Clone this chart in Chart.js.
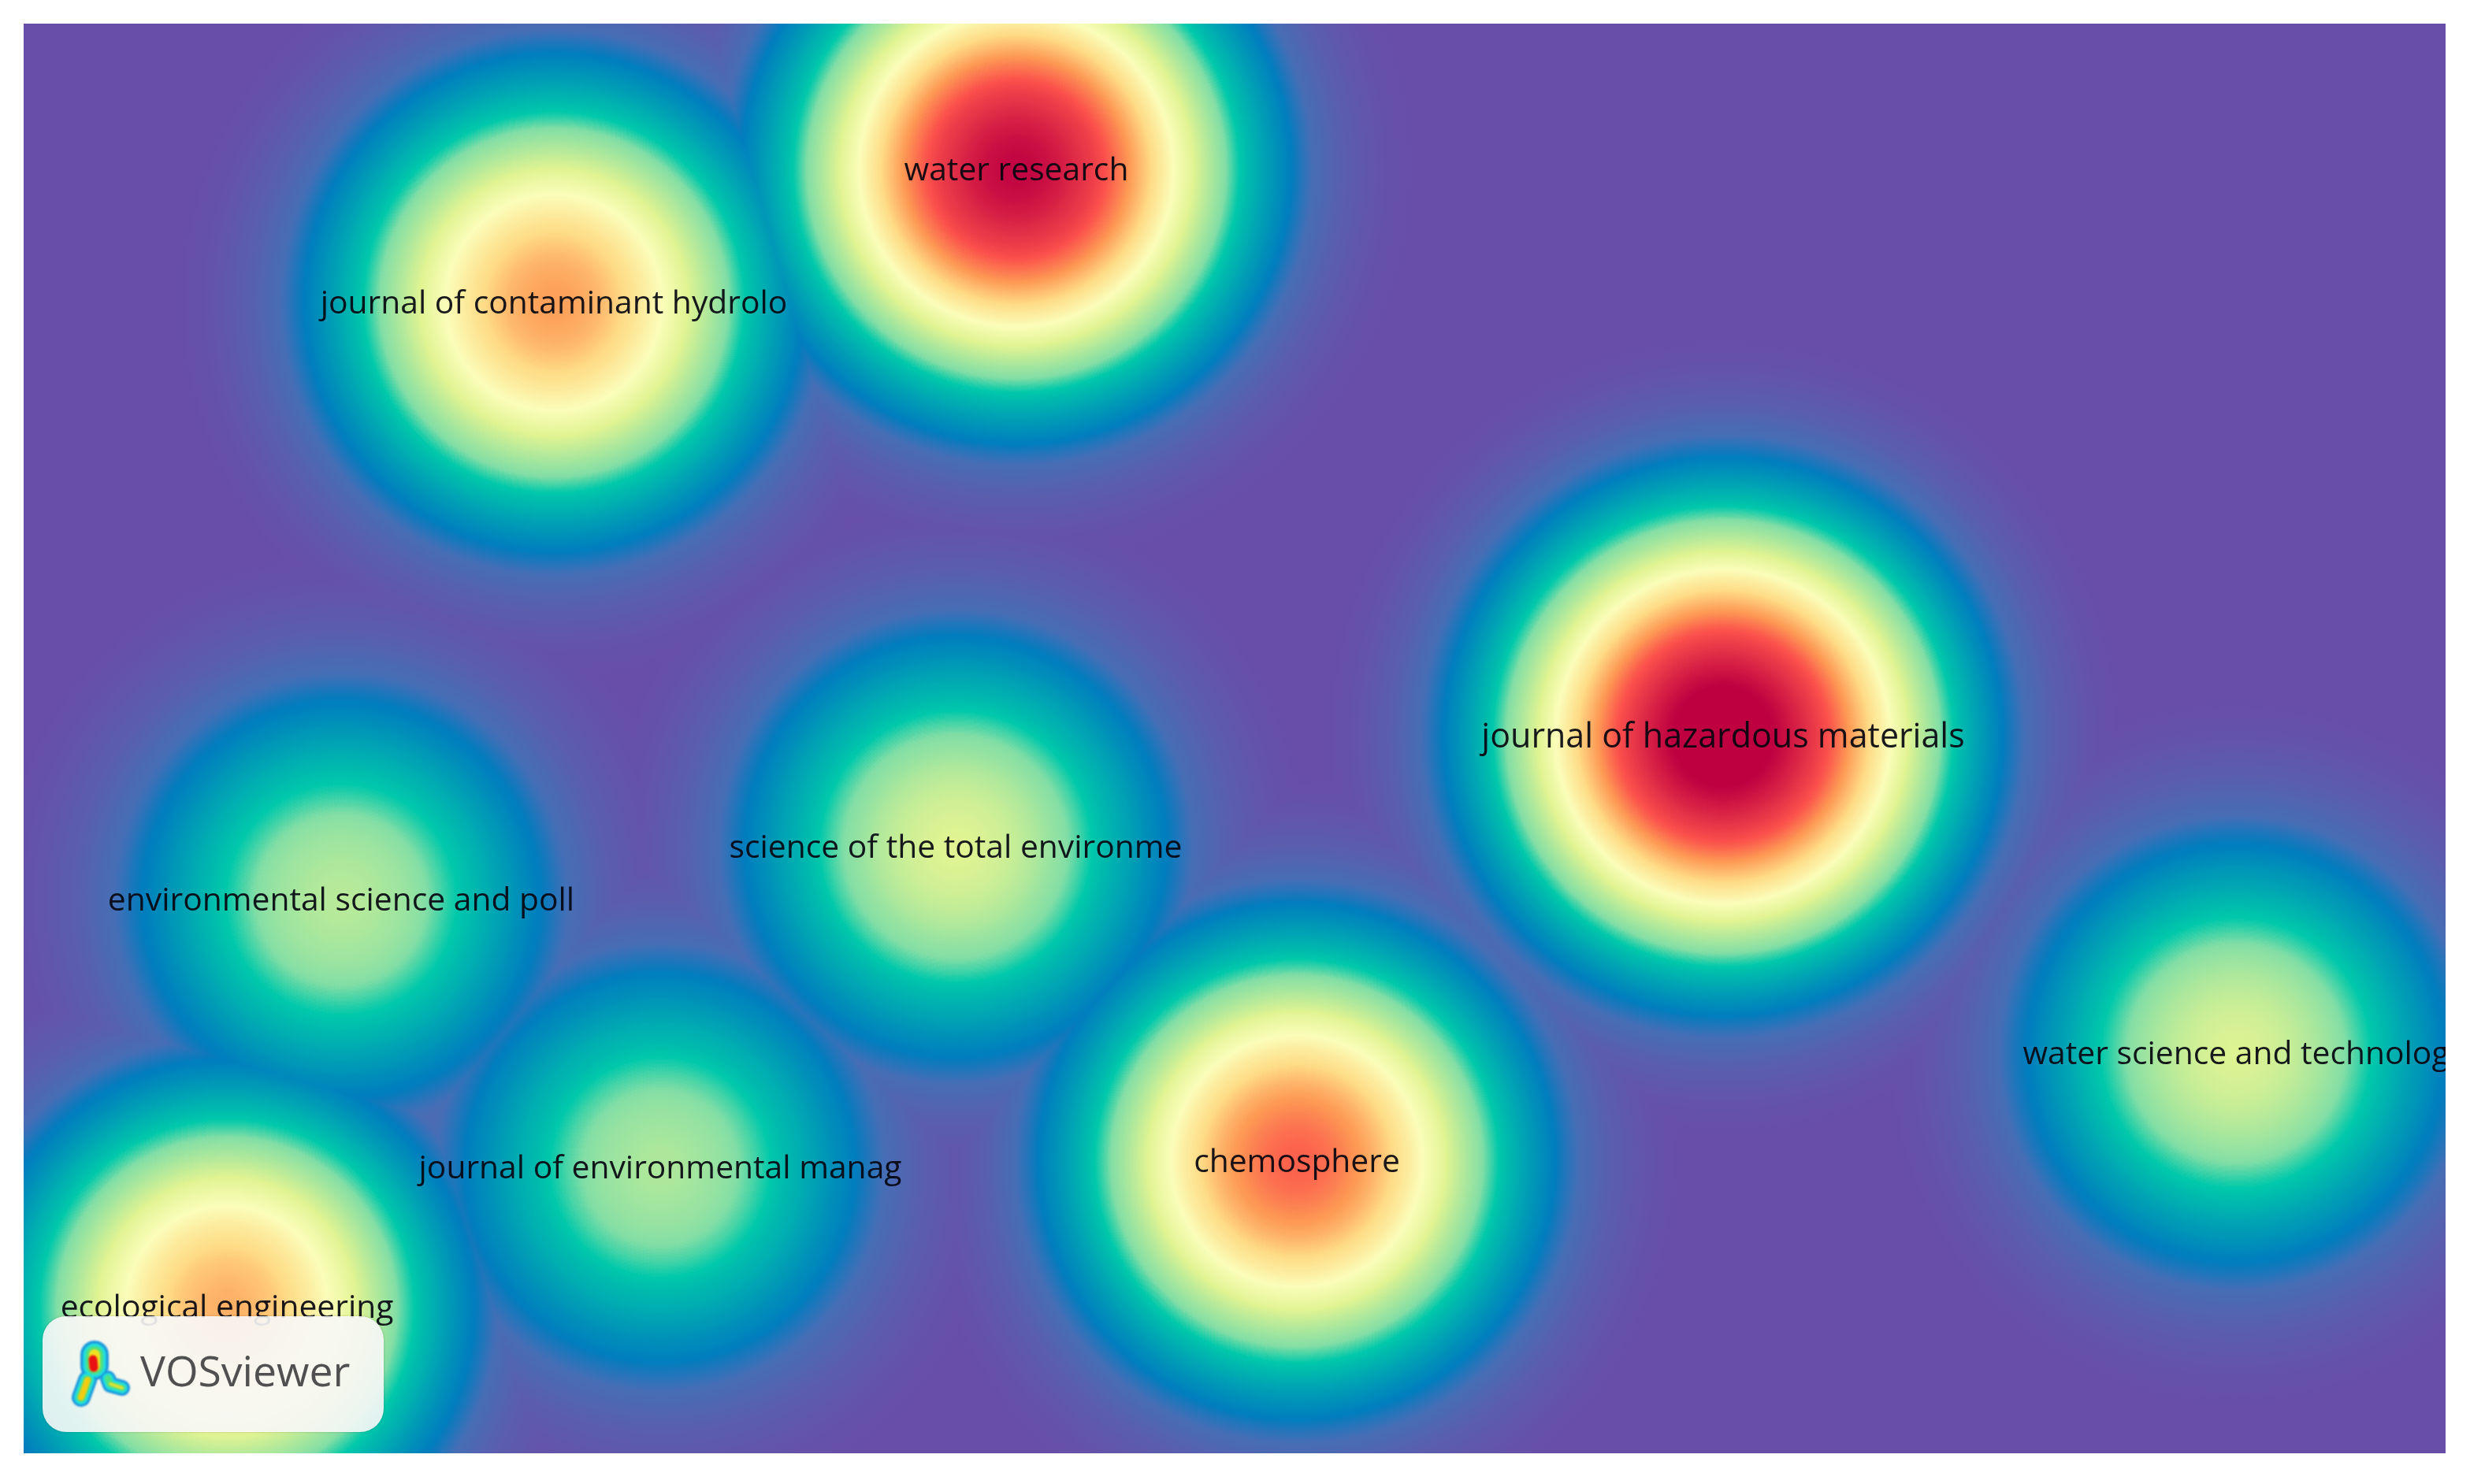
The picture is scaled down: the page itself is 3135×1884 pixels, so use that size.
<!DOCTYPE html>
<html>
<head>
<meta charset="utf-8">
<title>VOSviewer density map</title>
<script src="https://cdn.jsdelivr.net/npm/chart.js@4"></script>
<style>
    html, body { margin: 0; padding: 0; background: #fff; }
    canvas { display: block; }
</style>
</head>
<body>
<canvas id="densityChart" width="3135" height="1884"></canvas>
<script>
// Journals
const JOURNALS = [
    'water research', 'journal of contaminant hydrolo', 'journal of hazardous materials',
    'science of the total environme', 'environmental science and poll', 'water science and technolog',
    'chemosphere', 'journal of environmental manag', 'ecological engineering'
];
const NODE_X = [1260, 673, 2157, 1183, 403, 2808, 1616, 808, 258];
const NODE_Y = [185, 354, 905, 1045, 1112, 1307, 1444, 1452, 1629];
const NODE_DENSITY = [0.94, 0.72, 1.0, 0.50, 0.453, 0.497, 0.785, 0.44, 0.70];

// Label font size per journal
const LABEL_SIZES = [40.8, 40.8, 43, 40.8, 40.8, 40.8, 40.8, 40.8, 40.8];

// Density colour scale
const SCALE_LEVELS = [0, 0.04, 0.10, 0.16, 0.205, 0.345, 0.39, 0.5, 0.57, 0.65, 0.726, 0.80, 0.88, 0.95, 1];
const SCALE_COLORS = [
    [104, 78, 167], [104, 78, 167], [92, 92, 172], [70, 110, 182], [0, 125, 190], [0, 200, 170],
    [130, 222, 165], [224, 243, 146], [250, 253, 185], [254, 220, 135], [253, 155, 85], [251, 80, 75],
    [220, 40, 70], [190, 0, 65], [190, 0, 65]
];

const KERNEL_SIGMA = 200;
const KERNEL_RADIUS = 640;

function buildLookup() {
    const lookup = [];
    for (let i = 0; i < 256; i++) {
        const t = i / 255;
        let k = 0;
        while (k < SCALE_LEVELS.length - 2 && t > SCALE_LEVELS[k + 1]) k++;
        const f = (t - SCALE_LEVELS[k]) / (SCALE_LEVELS[k + 1] - SCALE_LEVELS[k]);
        lookup.push(SCALE_COLORS[k].map((c, n) => c + (SCALE_COLORS[k + 1][n] - c) * f));
    }
    return lookup;
}
const LOOKUP = buildLookup();

// Each bubble is a grey kernel, merged and coloured afterwards
function kernelFill(context) {
    const chart = context.chart;
    const i = context.dataIndex;
    if (i === undefined || !chart.chartArea) return 'black';
    const px = chart.scales.x.getPixelForValue(NODE_X[i]);
    const py = chart.scales.y.getPixelForValue(NODE_Y[i]);
    if (!Number.isFinite(px) || !Number.isFinite(py)) return 'black';
    const gradient = chart.ctx.createRadialGradient(px, py, 0, px, py, KERNEL_RADIUS);
    for (let s = 0; s <= 32; s++) {
        const d = s / 32 * KERNEL_RADIUS;
        const g = Math.round(255 * NODE_DENSITY[i] * Math.exp(-d * d / (2 * KERNEL_SIGMA * KERNEL_SIGMA)));
        gradient.addColorStop(s / 32, `rgb(${g},${g},${g})`);
    }
    return gradient;
}

function blob(ctx, points, width, color) {
    ctx.strokeStyle = color;
    ctx.lineWidth = width;
    ctx.beginPath();
    points.forEach((p, n) => n ? ctx.lineTo(p[0], p[1]) : ctx.moveTo(p[0], p[1]));
    ctx.stroke();
}

// VOSviewer badge in the lower left corner
function drawBadge(ctx) {
    ctx.save();
    ctx.shadowColor = 'rgba(0,0,0,0.25)';
    ctx.shadowBlur = 3;
    ctx.fillStyle = 'rgba(255,255,255,0.88)';
    ctx.beginPath();
    ctx.roundRect(54, 1671, 433, 147, 30);
    ctx.fill();
    ctx.restore();

    ctx.save();
    ctx.lineCap = 'round';
    ctx.lineJoin = 'round';
    ctx.filter = 'blur(1px)';
    const top = [[120, 1720], [120, 1734]];
    const left = [[111, 1752], [103, 1774]];
    const right = [[137, 1750], [140, 1758], [155, 1762]];
    ['#1c96dc', '#20dfe0', '#50e080'].forEach((color, n) => {
        blob(ctx, top, 36 - n * 7, color);
        blob(ctx, left, 24 - n * 6, color);
        blob(ctx, right, 20 - n * 6, color);
    });
    blob(ctx, top, 14, '#f2e020');
    blob(ctx, [[118, 1726], [119, 1736]], 11, '#e81010');
    blob(ctx, left, 8, '#f2cc10');
    blob(ctx, [[140, 1757], [155, 1762]], 4, '#e0e030');
    ctx.filter = 'blur(0.6px)';
    ctx.fillStyle = '#505050';
    ctx.font = '53.5px "Open Sans"';
    ctx.textAlign = 'left';
    ctx.textBaseline = 'alphabetic';
    ctx.fillText('VOSviewer', 178, 1760);
    ctx.restore();
}

const densityPlugin = {
    id: 'density',
    beforeDatasetsDraw(chart) {
        const { ctx, chartArea: a } = chart;
        ctx.save();
        ctx.fillStyle = '#000';
        ctx.fillRect(a.left, a.top, a.width, a.height);
        ctx.restore();
        ctx.globalCompositeOperation = 'lighten';
    },
    afterDatasetsDraw(chart) {
        const { ctx, chartArea: a, scales } = chart;
        ctx.globalCompositeOperation = 'source-over';

        // Turn the merged grey values into the density colours
        const image = ctx.getImageData(a.left, a.top, a.width, a.height);
        const px = image.data;
        for (let i = 0; i < px.length; i += 4) {
            const c = LOOKUP[px[i]];
            px[i] = c[0];
            px[i + 1] = c[1];
            px[i + 2] = c[2];
            px[i + 3] = 255;
        }
        ctx.putImageData(image, a.left, a.top);

        // Journal labels
        ctx.save();
        ctx.beginPath();
        ctx.rect(a.left, a.top, a.width, a.height);
        ctx.clip();
        ctx.filter = 'blur(0.7px)';
        ctx.fillStyle = 'rgba(5,5,15,0.92)';
        ctx.textAlign = 'center';
        ctx.textBaseline = 'middle';
        JOURNALS.forEach((name, i) => {
            ctx.font = `${LABEL_SIZES[i]}px "Open Sans"`;
            ctx.fillText(name, scales.x.getPixelForValue(NODE_X[i]), scales.y.getPixelForValue(NODE_Y[i]) + 2);
        });
        ctx.restore();

        drawBadge(ctx);
    }
};

new Chart(document.getElementById('densityChart'), {
    type: 'bubble',
    data: {
        labels: JOURNALS,
        datasets: [{
            label: 'density',
            data: NODE_X.map((x, i) => ({ x: x, y: NODE_Y[i], r: KERNEL_RADIUS })),
            backgroundColor: kernelFill,
            borderWidth: 0,
            clip: 0
        }]
    },
    options: {
        responsive: false,
        devicePixelRatio: 1,
        animation: false,
        events: [],
        layout: { autoPadding: false, padding: { left: 30, top: 30, right: 31, bottom: 39 } },
        scales: {
            x: { type: 'linear', display: false, min: 0, max: 3074 },
            y: { type: 'linear', display: false, min: 0, max: 1815, reverse: true }
        },
        plugins: {
            legend: { display: false },
            tooltip: { enabled: false }
        }
    },
    plugins: [densityPlugin]
});
</script>
</body>
</html>
